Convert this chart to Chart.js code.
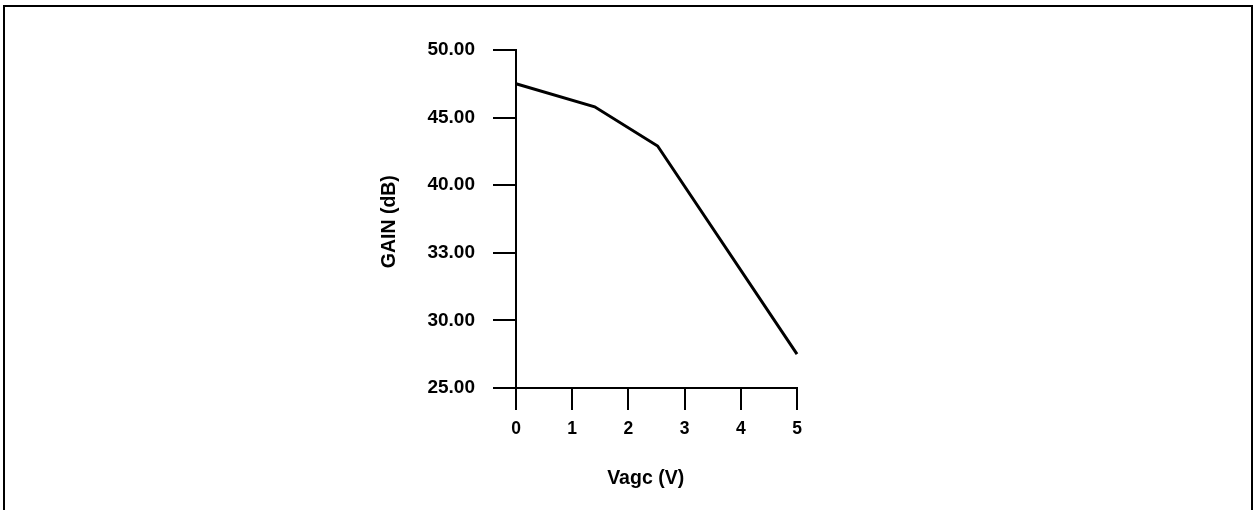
<!DOCTYPE html>
<html>
<head>
<meta charset="utf-8">
<script src="https://cdn.jsdelivr.net/npm/chart.js@4"></script>
<style>
  html, body { margin: 0; padding: 0; background: #fff; overflow: hidden; }
  #wrap { position: absolute; left: 0; top: 0; width: 1254px; height: 510px; }
  #frame { position: absolute; left: 3px; top: 5px; width: 1250px; height: 530px;
           border: 2px solid #000; box-sizing: border-box; pointer-events: none; }
</style>
</head>
<body>
<div id="wrap"><canvas id="gainChart" width="1254" height="510"></canvas></div>
<div id="frame"></div>
<script>
// values
const vagc = [0, 1.4, 2.52, 5];
const gain = [47.5, 45.8, 42.9, 27.5];
const xTicks = [0, 1, 2, 3, 4, 5];
const yTickLabels = ['25.00', '30.00', '33.00', '40.00', '45.00', '50.00'];

const font = { family: '"Liberation Sans", Arial, sans-serif', weight: 'bold' };

const ctx = document.getElementById('gainChart').getContext('2d');

new Chart(ctx, {
    type: 'line',
    data: {
        datasets: [{
            data: vagc.map((v, i) => ({ x: v, y: gain[i] })),
            borderColor: '#000',
            borderWidth: 3,
            pointRadius: 0,
            tension: 0,
            fill: false,
            clip: false
        }]
    },
    options: {
        responsive: false,
        animation: false,
        events: [],
        layout: { padding: { left: 0, top: 50, right: 457, bottom: 0 } },
        plugins: {
            legend: { display: false },
            tooltip: { enabled: false }
        },
        scales: {
            x: {
                type: 'linear',
                min: xTicks[0],
                max: xTicks[xTicks.length - 1],
                afterFit: scale => { scale.height = 122; },
                border: { color: '#000', width: 2 },
                grid: { drawOnChartArea: false, color: '#000', lineWidth: 2, tickLength: 22 },
                ticks: {
                    stepSize: 1,
                    color: '#000',
                    padding: 9,
                    font: { ...font, size: 17.5 },
                    callback: value => xTicks.includes(value) ? String(value) : ''
                },
                title: {
                    display: true,
                    // trailing spaces nudge the centred title left, as in the original
                    text: 'Vagc (V)    ',
                    color: '#000',
                    font: { ...font, size: 19.5 },
                    padding: { top: 0, bottom: 20 }
                }
            },
            y: {
                min: 25,
                max: 50,
                afterFit: scale => { scale.width = 516; },
                border: { color: '#000', width: 2 },
                grid: { drawOnChartArea: false, color: '#000', lineWidth: 2, tickLength: 23 },
                ticks: {
                    stepSize: 5,
                    color: '#000',
                    padding: 18,
                    font: { ...font, size: 19 },
                    callback: (value, index) => yTickLabels[index]
                },
                title: {
                    display: true,
                    text: 'GAIN (dB) ',
                    color: '#000',
                    font: { ...font, size: 19.5 },
                    padding: { top: 378, bottom: 0 }
                }
            }
        }
    }
});
</script>
</body>
</html>
